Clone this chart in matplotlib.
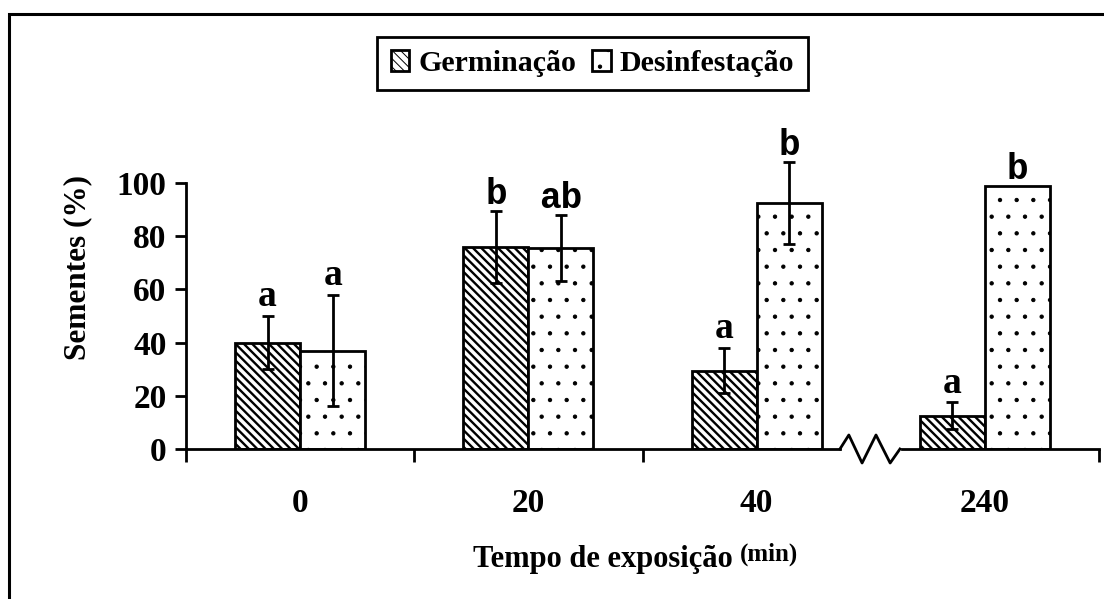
import matplotlib
matplotlib.use('Agg')
import matplotlib.pyplot as plt
import numpy as np
from matplotlib.patches import Rectangle

categories = ['0', '20', '40', '240']
germinacao = [40, 76, 29.5, 12.5]
germinacao_err = [10, 13.5, 8.5, 5]
desinfestacao = [37, 75.5, 92.5, 99]
desinfestacao_err = [21, 12.5, 15.5, np.nan]
letters_germ = ['a', 'b', 'a', 'a']
letters_des = ['a', 'ab', 'b', 'b']
yticks = [0, 20, 40, 60, 80, 100]

plt.rcParams['font.family'] = ['Liberation Serif', 'DejaVu Serif']
plt.rcParams['font.weight'] = 'bold'

fig = plt.figure(figsize=(11.04, 5.99), dpi=100)
ax = fig.add_axes([186/1104, 150/599, (1099-186)/1104, (449-103.2)/599])

x = np.arange(len(categories))
w = 0.285
plt.rcParams['hatch.linewidth'] = 1.7
b1 = ax.bar(x - w/2, germinacao, w, facecolor='white', edgecolor='black',
            linewidth=2, hatch='\\\\\\\\', label='Germinação', zorder=2)
plt.rcParams['hatch.linewidth'] = 0.7
b2 = ax.bar(x + w/2, desinfestacao, w, facecolor='white', edgecolor='black',
            linewidth=2, hatch='.', label='Desinfestação', zorder=2)

for xs, vals, errs in [(x - w/2, germinacao, germinacao_err),
                       (x + w/2, desinfestacao, desinfestacao_err)]:
    ax.errorbar(xs, vals, yerr=errs, fmt='none', ecolor='black', elinewidth=2,
                capsize=4.3, capthick=2, zorder=5)

for xs, vals, errs, labs in [(x - w/2, germinacao, germinacao_err, letters_germ),
                             (x + w/2, desinfestacao, desinfestacao_err, letters_des)]:
    for xi, v, e, lab in zip(xs, vals, errs, labs):
        top = v + (0 if np.isnan(e) else e)
        serif = (lab == 'a')
        ax.annotate(lab, (xi, top), xytext=(0, 7 if serif else 5),
                    textcoords='offset points', ha='center', va='baseline',
                    fontsize=27 if serif else 26, fontweight='bold',
                    family='Liberation Serif' if serif else 'Liberation Mono',
                    zorder=6)

ax.set_xlim(-0.5, 3.5)
ax.set_ylim(0, 130)
for s in ['top', 'right', 'bottom']:
    ax.spines[s].set_visible(False)
ax.spines['left'].set_linewidth(2)
ax.spines['left'].set_bounds(0, 100)

ax.set_yticks(yticks)
ax.set_yticklabels([str(t) for t in yticks])
ax.tick_params(axis='y', direction='out', length=8, width=2, pad=6, labelsize=24)

ax.set_xticks([-0.5, 0.5, 1.5, 3.5])
ax.set_xticklabels([])
ax.set_xticks(x, minor=True)
ax.set_xticklabels(categories, minor=True)
ax.tick_params(axis='x', which='major', direction='out', length=9.5, width=2)
ax.tick_params(axis='x', which='minor', length=0, pad=28, labelsize=24)

# broken x-axis line
tr = ax.get_xaxis_transform()
ax.plot([-0.5, 2.365], [0, 0], transform=tr, color='black', lw=2, clip_on=False, zorder=4)
zz_x = [2.365, 2.404, 2.462, 2.523, 2.585, 2.628]
zz_y = [0, 0.0405, -0.0405, 0.0405, -0.0405, 0]
ax.plot(zz_x, zz_y, transform=tr, color='black', lw=2, clip_on=False, zorder=4)
ax.plot([2.637, 3.5], [0, 0], transform=tr, color='black', lw=2, clip_on=False, zorder=4)

leg = ax.legend(handles=[b1, b2], loc='center', bbox_to_anchor=(592.5/1104, 1-63.5/599),
                bbox_transform=fig.transFigure, ncol=2, frameon=True, fancybox=False,
                edgecolor='black', prop={'family': 'Liberation Serif', 'weight': 'bold', 'size': 21.5},
                handlelength=0.62, handleheight=0.72, handletextpad=0.3, columnspacing=0.55,
                borderpad=0.45, borderaxespad=0)
leg.get_frame().set_linewidth(2)
leg.get_frame().set_alpha(None)

fig.text(78/1104, 1-267/599, 'Sementes (%)', rotation=90, ha='center', va='center',
         fontsize=22.5, fontweight='bold')
fig.text(473/1104, 1-560/599, 'Tempo de exposição', ha='left', va='center',
         fontsize=22, fontweight='bold')
fig.text(740/1104, 1-554/599, '(min)', ha='left', va='center',
         fontsize=18, fontweight='bold')

fig.add_artist(Rectangle((9/1104, -0.1), 1.2, 1 - 14/599 + 0.1, transform=fig.transFigure,
                         fill=False, lw=2.2, edgecolor='black'))

fig.savefig('out.png', dpi=100)
